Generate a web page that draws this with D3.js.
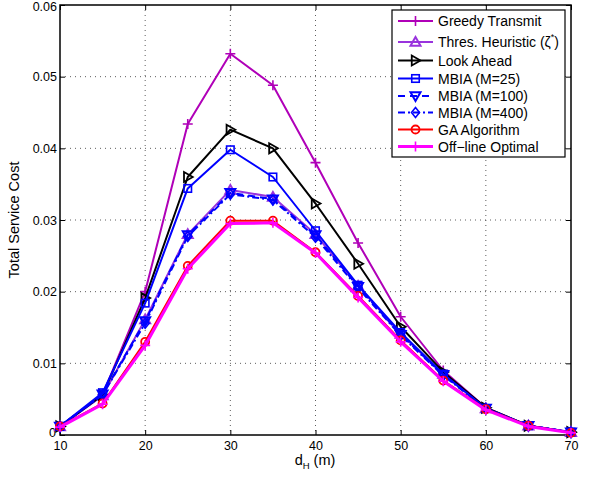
<!DOCTYPE html>
<html>
<head>
<meta charset="utf-8">
<script src="https://cdn.jsdelivr.net/npm/d3@7"></script>
<style>
  html, body { margin: 0; padding: 0; background: #fff; }
  svg { display: block; font-family: "Liberation Sans", Arial, sans-serif; }
</style>
</head>
<body>
<svg id="chart" width="591" height="478"></svg>
<script>
// Distance d_H (m)
const distances = [10, 15, 20, 25, 30, 35, 40, 45, 50, 55, 60, 65, 70];

// Total service cost per scheme
const greedyTransmit = [0.0012, 0.0056, 0.0200, 0.0434, 0.0532, 0.0488, 0.0380, 0.0268, 0.0165, 0.0090, 0.0038, 0.0013, 0.0004];
const thresHeuristic = [0.0012, 0.0055, 0.0161, 0.0280, 0.0342, 0.0332, 0.0280, 0.0208, 0.0141, 0.0085, 0.0037, 0.0013, 0.0004];
const lookAhead      = [0.0012, 0.0056, 0.0191, 0.0360, 0.0426, 0.0400, 0.0323, 0.0239, 0.0151, 0.0088, 0.0038, 0.0013, 0.0004];
const mbia25         = [0.0012, 0.0059, 0.0184, 0.0344, 0.0398, 0.0360, 0.0285, 0.0209, 0.0143, 0.0085, 0.0037, 0.0013, 0.0004];
const mbia100        = [0.0012, 0.0057, 0.0159, 0.0279, 0.0338, 0.0329, 0.0279, 0.0207, 0.0140, 0.0084, 0.0037, 0.0013, 0.0004];
const mbia400        = [0.0012, 0.0056, 0.0156, 0.0277, 0.0336, 0.0328, 0.0276, 0.0205, 0.0139, 0.0083, 0.0037, 0.0013, 0.0004];
const gaAlgorithm    = [0.0012, 0.0044, 0.0130, 0.0236, 0.0299, 0.0299, 0.0255, 0.0194, 0.0132, 0.0076, 0.0036, 0.0013, 0.0003];
const offlineOptimal = [0.0011, 0.0043, 0.0125, 0.0232, 0.0295, 0.0296, 0.0254, 0.0192, 0.0130, 0.0075, 0.0035, 0.0012, 0.0003];

const xTicks = [10, 20, 30, 40, 50, 60, 70];
const yTicks = [0, 0.01, 0.02, 0.03, 0.04, 0.05, 0.06];

const series = [
  { name: "Greedy Transmit", values: greedyTransmit, color: "#b000b8", marker: "plus", dash: null, width: 2 },
  { name: "Thres. Heuristic", values: thresHeuristic, color: "#9933dd", marker: "triUp", dash: null, width: 2, zeta: true },
  { name: "Look Ahead", values: lookAhead, color: "#000000", marker: "triRight", dash: null, width: 2 },
  { name: "MBIA (M=25)", values: mbia25, color: "#0000ff", marker: "square", dash: null, width: 2 },
  { name: "MBIA (M=100)", values: mbia100, color: "#0000ff", marker: "triDown", dash: "7,5", width: 2 },
  { name: "MBIA (M=400)", values: mbia400, color: "#0000ff", marker: "diamond", dash: "7,3,2,3", width: 2 },
  { name: "GA Algorithm", values: gaAlgorithm, color: "#ff0000", marker: "circle", dash: null, width: 2 },
  { name: "Off\u2212line Optimal", values: offlineOptimal, color: "#ff00ff", marker: "plus", dash: null, width: 3 }
];

const svg = d3.select("#chart");
const plotLeft = 60, plotRight = 571, plotTop = 5, plotBottom = 435;

const x = d3.scaleLinear().domain([10, 70]).range([plotLeft, plotRight]);
const y = d3.scaleLinear().domain([0, 0.06]).range([plotBottom, plotTop]);

// Dotted grid
const grid = svg.append("g");
xTicks.slice(1, -1).forEach(t => {
  grid.append("line").attr("x1", x(t)).attr("x2", x(t)).attr("y1", plotTop).attr("y2", plotBottom)
    .attr("stroke", "#333").attr("stroke-width", 0.8).attr("stroke-dasharray", "1,4");
});
yTicks.slice(1, -1).forEach(t => {
  grid.append("line").attr("x1", plotLeft).attr("x2", plotRight).attr("y1", y(t)).attr("y2", y(t))
    .attr("stroke", "#333").attr("stroke-width", 0.8).attr("stroke-dasharray", "1,4");
});

// Axes (inward ticks) plus mirrored ticks on top and right
const fmtY = d => d === 0 ? "0" : d3.format(".2f")(d);
const xAxis = d3.axisBottom(x).tickValues(xTicks).tickSizeInner(-5).tickSizeOuter(0).tickPadding(6.5).tickFormat(d3.format("d"));
const yAxis = d3.axisLeft(y).tickValues(yTicks).tickSizeInner(-5).tickSizeOuter(0).tickPadding(3).tickFormat(fmtY);

const gx = svg.append("g").attr("transform", `translate(0,${plotBottom})`).call(xAxis);
const gy = svg.append("g").attr("transform", `translate(${plotLeft},0)`).call(yAxis);
const gxTop = svg.append("g").attr("transform", `translate(0,${plotTop})`)
  .call(d3.axisTop(x).tickValues(xTicks).tickSizeInner(-5).tickSizeOuter(0).tickFormat(""));
const gyRight = svg.append("g").attr("transform", `translate(${plotRight},0)`)
  .call(d3.axisRight(y).tickValues(yTicks).tickSizeInner(-5).tickSizeOuter(0).tickFormat(""));

[gx, gy, gxTop, gyRight].forEach(g => {
  g.select(".domain").remove();
  g.selectAll(".tick line").attr("stroke", "#000").attr("stroke-width", 1);
  g.selectAll("text").attr("font-size", 12.5).attr("fill", "#000")
    .attr("font-family", "'Liberation Sans', Arial, sans-serif");
});
gx.selectAll("text").attr("dy", "0.71em");
// keep the end labels of the y axis clear of the frame edge and the x labels
gy.selectAll(".tick text").filter(d => d === 0).attr("dy", "0.1em").attr("dx", "-1");
gy.selectAll(".tick text").filter(d => d === 0.06).attr("dy", "0.45em");

svg.append("rect").attr("x", plotLeft).attr("y", plotTop).attr("width", plotRight - plotLeft).attr("height", plotBottom - plotTop)
  .attr("fill", "none").attr("stroke", "#000").attr("stroke-width", 1.5);

// Marker shapes
function drawMarker(g, type, cx, cy, color, s) {
  const r = s;
  if (type === "plus") {
    g.append("path").attr("d", `M${cx - r},${cy}H${cx + r}M${cx},${cy - r}V${cy + r}`)
      .attr("stroke", color).attr("stroke-width", 1.6).attr("fill", "none");
  } else if (type === "triUp") {
    g.append("path").attr("d", `M${cx},${cy - r}L${cx + r},${cy + r * 0.75}L${cx - r},${cy + r * 0.75}Z`)
      .attr("stroke", color).attr("stroke-width", 2).attr("fill", "none");
  } else if (type === "triDown") {
    g.append("path").attr("d", `M${cx},${cy + r}L${cx + r},${cy - r * 0.75}L${cx - r},${cy - r * 0.75}Z`)
      .attr("stroke", color).attr("stroke-width", 2).attr("fill", "none");
  } else if (type === "triRight") {
    g.append("path").attr("d", `M${cx + r},${cy}L${cx - r * 0.75},${cy - r}L${cx - r * 0.75},${cy + r}Z`)
      .attr("stroke", color).attr("stroke-width", 1.8).attr("fill", "none");
  } else if (type === "square") {
    const h = r * 0.75;
    g.append("rect").attr("x", cx - h).attr("y", cy - h).attr("width", 2 * h).attr("height", 2 * h)
      .attr("stroke", color).attr("stroke-width", 1.6).attr("fill", "none");
  } else if (type === "diamond") {
    g.append("path").attr("d", `M${cx},${cy - r}L${cx + r * 0.8},${cy}L${cx},${cy + r}L${cx - r * 0.8},${cy}Z`)
      .attr("stroke", color).attr("stroke-width", 1.6).attr("fill", "none");
  } else if (type === "circle") {
    g.append("circle").attr("cx", cx).attr("cy", cy).attr("r", r * 0.8)
      .attr("stroke", color).attr("stroke-width", 1.8).attr("fill", "none");
  }
}

// Series lines and markers
const line = d3.line().x((d, i) => x(distances[i])).y(d => y(d));
series.forEach(s => {
  const g = svg.append("g");
  g.append("path").datum(s.values).attr("d", line)
    .attr("fill", "none").attr("stroke", s.color).attr("stroke-width", s.width)
    .attr("stroke-linejoin", "round")
    .attr("stroke-dasharray", s.dash);
  s.values.forEach((v, i) => drawMarker(g, s.marker, x(distances[i]), y(v), s.color, 5));
});

// Legend
const lg = svg.append("g");
lg.append("rect").attr("x", 392).attr("y", 10).attr("width", 173).attr("height", 147)
  .attr("fill", "#fff").attr("stroke", "#000").attr("stroke-width", 1.2);
const rowY = [21, 42, 60.5, 78.5, 96, 112.5, 129.5, 146.5];
series.forEach((s, i) => {
  const yy = rowY[i];
  lg.append("line").attr("x1", 398).attr("x2", 433).attr("y1", yy).attr("y2", yy)
    .attr("stroke", s.color).attr("stroke-width", s.width).attr("stroke-dasharray", s.dash);
  drawMarker(lg, s.marker, 415.5, yy, s.color, 5);
  const t = lg.append("text").attr("x", 438).attr("y", yy + 5).attr("font-size", 14).attr("fill", "#000");
  t.append("tspan").text(s.name);
  if (s.zeta) {
    t.append("tspan").text(" (\u03B6");
    t.append("tspan").attr("font-size", 9).attr("dy", -7).text("*");
    t.append("tspan").attr("dy", 7).text(")");
  }
});

// Axis titles
svg.append("text").attr("transform", "translate(19,220) rotate(-90)").attr("text-anchor", "middle")
  .attr("font-size", 14.5).attr("fill", "#000").text("Total Service Cost");
const xl = svg.append("text").attr("x", 315).attr("y", 465).attr("text-anchor", "middle")
  .attr("font-size", 14.5).attr("fill", "#000");
xl.append("tspan").text("d");
xl.append("tspan").attr("font-size", 9.5).attr("dy", 4).text("H");
xl.append("tspan").attr("dy", -4).text(" (m)");
</script>
</body>
</html>
